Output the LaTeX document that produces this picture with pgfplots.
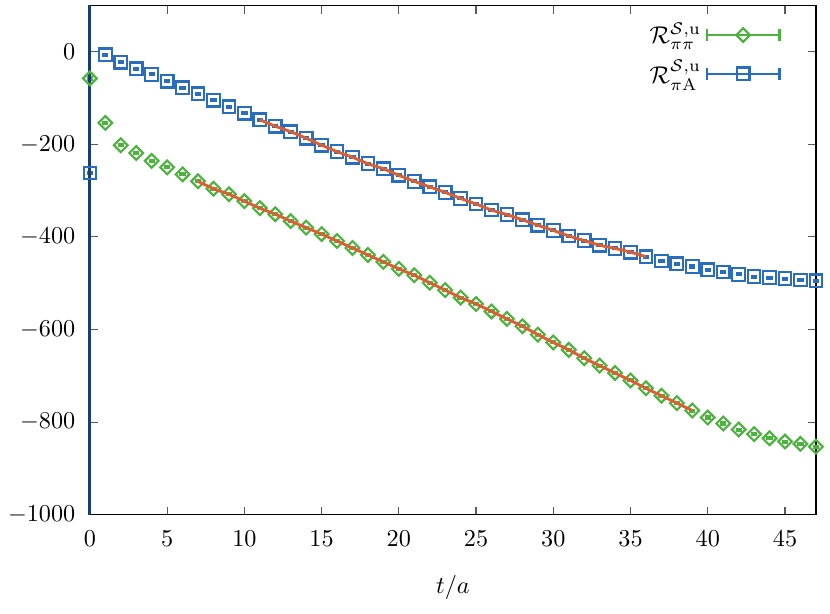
\documentclass[border=0pt]{standalone}
\usepackage{amsmath,amssymb}
\usepackage{pgfplots}
\pgfplotsset{compat=1.18}
\usepackage{pgfplotstable}

\definecolor{cgreen}{RGB}{77,178,63}
\definecolor{cblue}{RGB}{42,108,190}
\definecolor{cfit}{RGB}{218,96,52}
\definecolor{cleft}{RGB}{24,62,112}

% t, value, error
\pgfplotstableread{
t y e
0 -58 2
1 -154 2
2 -202 2
3 -219 2
4 -236 2
5 -250 2
6 -265 2
7 -280 2
8 -296 2
9 -308 2
10 -323 2
11 -338 2
12 -351 2
13 -366 2
14 -380 2
15 -394 2
16 -409 2
17 -424 2
18 -439 2
19 -454 2
20 -469 2
21 -483 2
22 -499 2
23 -515 2
24 -531 2
25 -545 2
26 -561 2
27 -577 2
28 -593 2
29 -611 2
30 -628 2
31 -644 2
32 -662 2
33 -678 2
34 -694 2
35 -710 2
36 -727 2
37 -743 2
38 -759 2
39 -775 2
40 -790 2
41 -803 2
42 -816 2
43 -826 2
44 -835 2
45 -842 2
46 -847 2
47 -853 2
}\pipi

\pgfplotstableread{
t y e
0 -262 2
1 -7 2
2 -23 2
3 -37 2
4 -49 2
5 -64 2
6 -78 2
7 -91 2
8 -105 2
9 -119 2
10 -133 2
11 -147 2
12 -161 2
13 -173 2
14 -187 2
15 -202 2
16 -216 2
17 -228 2
18 -242 2
19 -253 2
20 -267 2
21 -280 2
22 -292 2
23 -304 2
24 -317 2
25 -329 2
26 -342 2
27 -352 2
28 -363 2
29 -375 2
30 -386 2
31 -398 2
32 -408 2
33 -418 2
34 -425 2
35 -433 2
36 -443 2
37 -452 2
38 -458 2
39 -464 2
40 -471 2
41 -476 2
42 -481 2
43 -486 2
44 -488 2
45 -490 2
46 -493 2
47 -495 2
}\piA

\begin{document}
\begin{tikzpicture}
\begin{axis}[
    set layers,
    clip=false,
    scale only axis,
    width=300pt, height=210.5pt,
    xmin=0, xmax=47, ymin=-1000, ymax=100,
    xtick={0,5,...,45},
    ytick={-1000,-800,...,0},
    /pgf/number format/set thousands separator={},
    xticklabel style={yshift=-3pt},
    yticklabel style={xshift=-2.5pt},
    tick align=inside,
    major tick length=3.4pt,
    major tick style={gray!70!black, line width=0.5pt},
    axis line style={black, line width=0.6pt},
    xlabel={$t/a$},
    xlabel style={yshift=-5pt},
    legend style={at={(0.962,0.985)}, anchor=north east, draw=none, fill=none,
        legend plot pos=right, legend cell align=right,
        row sep=1.5pt, font=\normalsize},
    legend image code/.code={
        \draw[#1,mark=none,solid] (0pt,0pt) -- (30pt,0pt);
        \draw[#1,mark=none,solid] (0pt,-2.5pt) -- (0pt,2.5pt);
        \draw[#1,mark=none,solid] (30pt,-2.5pt) -- (30pt,2.5pt);
        \draw[#1] plot coordinates {(15pt,0pt)};
    },
]
\addplot[only marks, cgreen, mark=square, mark size=2.0pt, line width=0.9pt,
    mark options={rotate=45},
    error bars/.cd, y dir=both, y explicit,
    error mark options={cgreen, rotate=90, mark size=1.3pt, line width=0.9pt}]
    table[x=t, y=y, y error=e] {\pipi};
\addlegendentry{$\mathcal{R}^{\mathcal{S},\mathrm{u}}_{\pi\pi}$}

\addplot[only marks, cblue, mark=square, mark size=2.6pt, line width=0.9pt,
    error bars/.cd, y dir=both, y explicit,
    error mark options={cblue, rotate=90, mark size=1.3pt, line width=0.9pt}]
    table[x=t, y=y, y error=e] {\piA};
\addlegendentry{$\mathcal{R}^{\mathcal{S},\mathrm{u}}_{\pi\mathrm{A}}$}

\addplot[cfit, line width=1.2pt, smooth, forget plot, on layer=axis foreground]
    table[x=t, y=y, restrict x to domain=7:39] {\pipi};
\addplot[cfit, line width=1.2pt, smooth, forget plot, on layer=axis foreground]
    table[x=t, y=y, restrict x to domain=11:36] {\piA};

\addplot[cleft, line width=1.2pt, forget plot]
    coordinates {(0,-1000) (0,100)};
\end{axis}
\path (current bounding box.south west) ++(0pt,-2.5pt);
\path (current bounding box.north east) ++(1.2pt,1.6pt);
\end{tikzpicture}
\end{document}
